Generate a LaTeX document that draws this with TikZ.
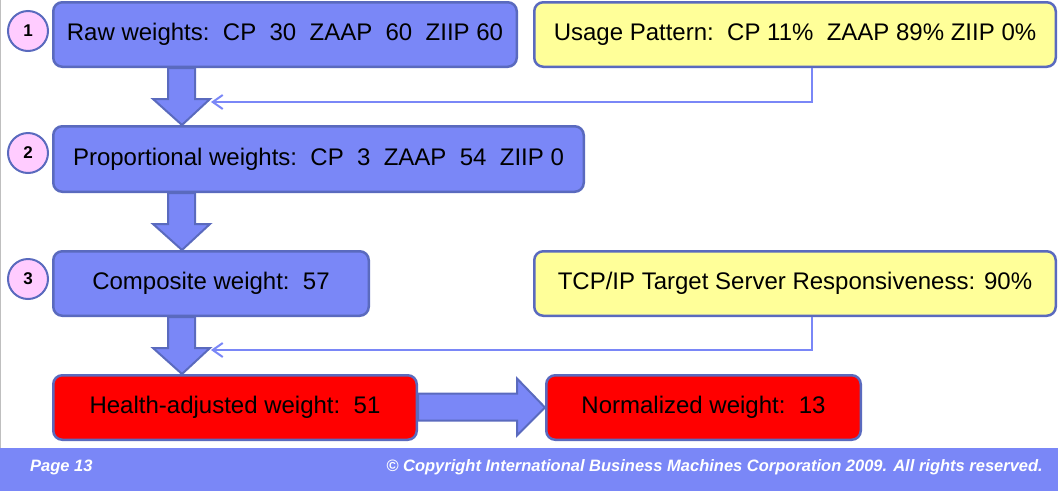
\documentclass[tikz,border=0pt]{standalone}
\usepackage{fontspec}
\setmainfont{Liberation Sans}
\usetikzlibrary{arrows.meta}
\usetikzlibrary{positioning}
\definecolor{wlmblue}{RGB}{122,135,247}
\definecolor{wlmedge}{RGB}{90,106,190}
\definecolor{wlmpink}{RGB}{255,204,255}
\definecolor{wlmyellow}{RGB}{255,255,153}
\newcommand{\blockdown}[2]{%
  \coordinate (#1-#2 tip) at (182,0 |- #2.north);
  \draw[blockarrow] (168,0 |- #1.south) -- (195,0 |- #1.south)
    -- ([shift={(13,-26)}]#1-#2 tip) -- ([shift={(28,-26)}]#1-#2 tip)
    -- (#1-#2 tip) -- ([shift={(-29,-26)}]#1-#2 tip)
    -- ([shift={(-14,-26)}]#1-#2 tip) -- cycle;}

\begin{document}
\begin{tikzpicture}[x=1pt,y=-1pt,
    wbox/.style={draw=wlmedge, line width=2.5pt, rounded corners=9pt,
      font=\fontsize{24}{28}\selectfont, inner sep=0pt},
    weightbox/.style={wbox, fill=wlmblue},
    infobox/.style={wbox, fill=wlmyellow},
    resultbox/.style={wbox, fill=red},
    num/.style={circle, draw=wlmedge, line width=2pt, fill=wlmpink,
      minimum size=40pt, inner sep=0pt, font=\fontsize{17}{20}\selectfont\bfseries},
    blockarrow/.style={draw=wlmedge, line width=2pt, fill=wlmblue, line join=miter},
    feed/.style={draw=wlmblue, line width=2pt,
      -{Straight Barb[length=10pt,width=14pt,line width=2pt]}},
    foot/.style={text=white, font=\fontsize{16.5}{19}\selectfont\bfseries\itshape, inner sep=0pt}]
  \useasboundingbox (0,0) rectangle (1058,491);
  \draw[black!25, line width=1pt] (0.5,0) -- (0.5,448);

  % steps
  \node[weightbox, minimum width=463.5pt, minimum height=64.5pt] (raw) at (285,34.5)
    {Raw weights:\ \ CP\ \ 30\ \ ZAAP\ \ 60\ \ ZIIP 60};
  \node[weightbox, minimum width=530.5pt, minimum height=65.5pt] (prop) at (318.5,159)
    {Proportional weights:\ \ CP\ \ 3\ \ ZAAP\ \ 54\ \ ZIIP 0};
  \node[weightbox, minimum width=315.5pt, minimum height=64.5pt] (comp) at (211,283.5)
    {Composite weight:\ \ 57};
  \node[resultbox, minimum width=363.5pt, minimum height=64.5pt] (health) at (235,407.5)
    {Health-adjusted weight:\ \ 51};
  \node[resultbox, minimum width=314.5pt, minimum height=64.5pt] (norm) at (703.5,407.5)
    {Normalized weight:\ \ 13};

  % inputs
  \node[infobox, minimum width=521.5pt, minimum height=64.5pt] (usage) at (795,34.5)
    {Usage Pattern:\ \ CP 11\%\ \ ZAAP 89\% ZIIP 0\%};
  \node[infobox, minimum width=521.5pt, minimum height=64.5pt] (resp) at (795,283.5)
    {TCP/IP Target Server Responsiveness: 90\%};

  \node[num] (n1) at (28,31) {1};
  \node[num] (n2) at (28,153) {2};
  \node[num] (n3) at (28,279) {3};

  \blockdown{raw}{prop}
  \blockdown{prop}{comp}
  \blockdown{comp}{health}
  \draw[blockarrow] (health.east |- 0,393.5) -- (517,393.5) -- (517,378.5)
    -- (norm.west) -- (517,435.5) -- (517,420.5) -- (health.east |- 0,420.5) -- cycle;

  \coordinate (in1) at (211,102);
  \coordinate (in2) at (211,350);
  \draw[feed] (812,0 |- usage.south) |- (in1);
  \draw[feed] (812,0 |- resp.south) |- (in2);

  % footer
  \fill[wlmblue] (0,448) rectangle (1058,491);
  \node[foot, anchor=west] (page) at (30,467) {Page 13};
  \node[foot, anchor=east] (copy) at (1043,467)
    {© Copyright International Business Machines Corporation 2009. All rights reserved.};
\end{tikzpicture}
\end{document}
